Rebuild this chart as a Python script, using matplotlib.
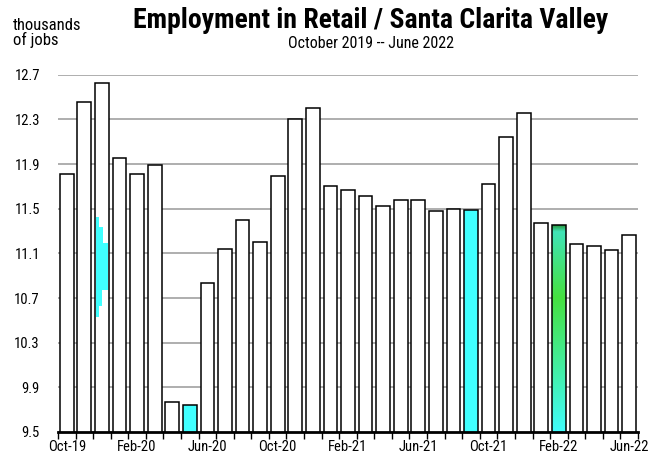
import numpy as np
import matplotlib
matplotlib.use('Agg')
import matplotlib.pyplot as plt
from matplotlib.colors import LinearSegmentedColormap

# Data (thousands of jobs, Oct-19 .. Jun-22)
months = ['Oct-19', 'Nov-19', 'Dec-19', 'Jan-20', 'Feb-20', 'Mar-20', 'Apr-20', 'May-20',
          'Jun-20', 'Jul-20', 'Aug-20', 'Sep-20', 'Oct-20', 'Nov-20', 'Dec-20', 'Jan-21',
          'Feb-21', 'Mar-21', 'Apr-21', 'May-21', 'Jun-21', 'Jul-21', 'Aug-21', 'Sep-21',
          'Oct-21', 'Nov-21', 'Dec-21', 'Jan-22', 'Feb-22', 'Mar-22', 'Apr-22', 'May-22',
          'Jun-22']
jobs = [11.81, 12.46, 12.63, 11.95, 11.81, 11.89, 9.77, 9.74,
        10.83, 11.14, 11.40, 11.20, 11.79, 12.30, 12.40, 11.70,
        11.67, 11.61, 11.52, 11.58, 11.58, 11.48, 11.50, 11.49,
        11.72, 12.14, 12.36, 11.37, 11.35, 11.18, 11.17, 11.13,
        11.26]
cyan_months = ['May-20', 'Sep-21']
gradient_month = 'Feb-22'
label_months = ['Oct-19', 'Feb-20', 'Jun-20', 'Oct-20', 'Feb-21', 'Jun-21', 'Oct-21', 'Feb-22', 'Jun-22']
yticks = [9.5, 9.9, 10.3, 10.7, 11.1, 11.5, 11.9, 12.3, 12.7]

# stray cyan smudge inside the Dec-19 bar (step levels and widths in bar slots)
smudge_levels = [11.43, 11.34, 11.19, 10.77, 10.63, 10.53]
smudge_widths = [0.20, 0.40, 0.68, 0.34, 0.20]

CYAN = '#40ffff'
plt.rcParams['font.family'] = ['Roboto Condensed', 'DejaVu Sans']

fig = plt.figure(figsize=(6.62, 4.67), dpi=100)
ax = fig.add_axes([0.0876, 0.075, 0.8761, 0.765])

x = np.arange(len(months))
width = 0.78
colors = [CYAN if m in cyan_months else 'white' for m in months]
bars = ax.bar(x, jobs, width=width, bottom=0, color=colors, edgecolor='black',
              linewidth=1.1, zorder=3)

# gradient bar (cyan -> green -> teal)
gi = months.index(gradient_month)
cmap = LinearSegmentedColormap.from_list('g', [(0, '#40fcfc'), (0.65, '#46e040'), (0.97, '#40e4b8'), (1, '#2a9a40')])
grad = np.linspace(0, 1, 256).reshape(-1, 1)
b = bars[gi]
b.set_facecolor('none')
im = ax.imshow(grad, cmap=cmap, origin='lower', aspect='auto', zorder=2.9,
               extent=[gi - width / 2, gi + width / 2, 9.5, jobs[gi]])
im.set_clip_path(b)

# smudge
si = months.index('Dec-19')
x0 = si - width / 2 + 0.05
for k, w in enumerate(smudge_widths):
    ax.fill_between([x0, x0 + w], smudge_levels[k + 1], smudge_levels[k],
                    color=CYAN, lw=0, zorder=4)

ax.set_xlim(-0.5, len(months) - 0.5)
ax.set_ylim(9.5, 12.7)
ax.set_yticks(yticks)
ax.set_yticklabels([f'{v:.1f}' for v in yticks], fontsize=10.5)
ax.yaxis.grid(True, color='#a8a8a8', linewidth=1.3, zorder=0)
ax.tick_params(axis='y', length=0, pad=13)

ax.set_xticks([months.index(m) for m in label_months])
ax.set_xticklabels(label_months, fontsize=10.5)
ax.set_xticks(np.arange(-0.5, len(months)), minor=True)
ax.tick_params(axis='x', which='major', length=0, pad=6)
ax.tick_params(axis='x', which='minor', length=5, width=1, direction='out')

for s in ['top', 'right', 'left']:
    ax.spines[s].set_visible(False)
ax.spines['bottom'].set_linewidth(2)
ax.spines['bottom'].set_zorder(5)

fig.text(0.56, 0.94, 'Employment in Retail / Santa Clarita Valley', ha='center', va='baseline',
         fontsize=20, fontweight='bold')
fig.text(0.56, 0.897, 'October 2019 -- June 2022', ha='center', va='baseline', fontsize=11.5)
fig.text(0.019, 0.936, 'thousands', ha='left', va='baseline', fontsize=12)
fig.text(0.019, 0.904, 'of jobs', ha='left', va='baseline', fontsize=12)

plt.savefig('out.png', dpi=100)
